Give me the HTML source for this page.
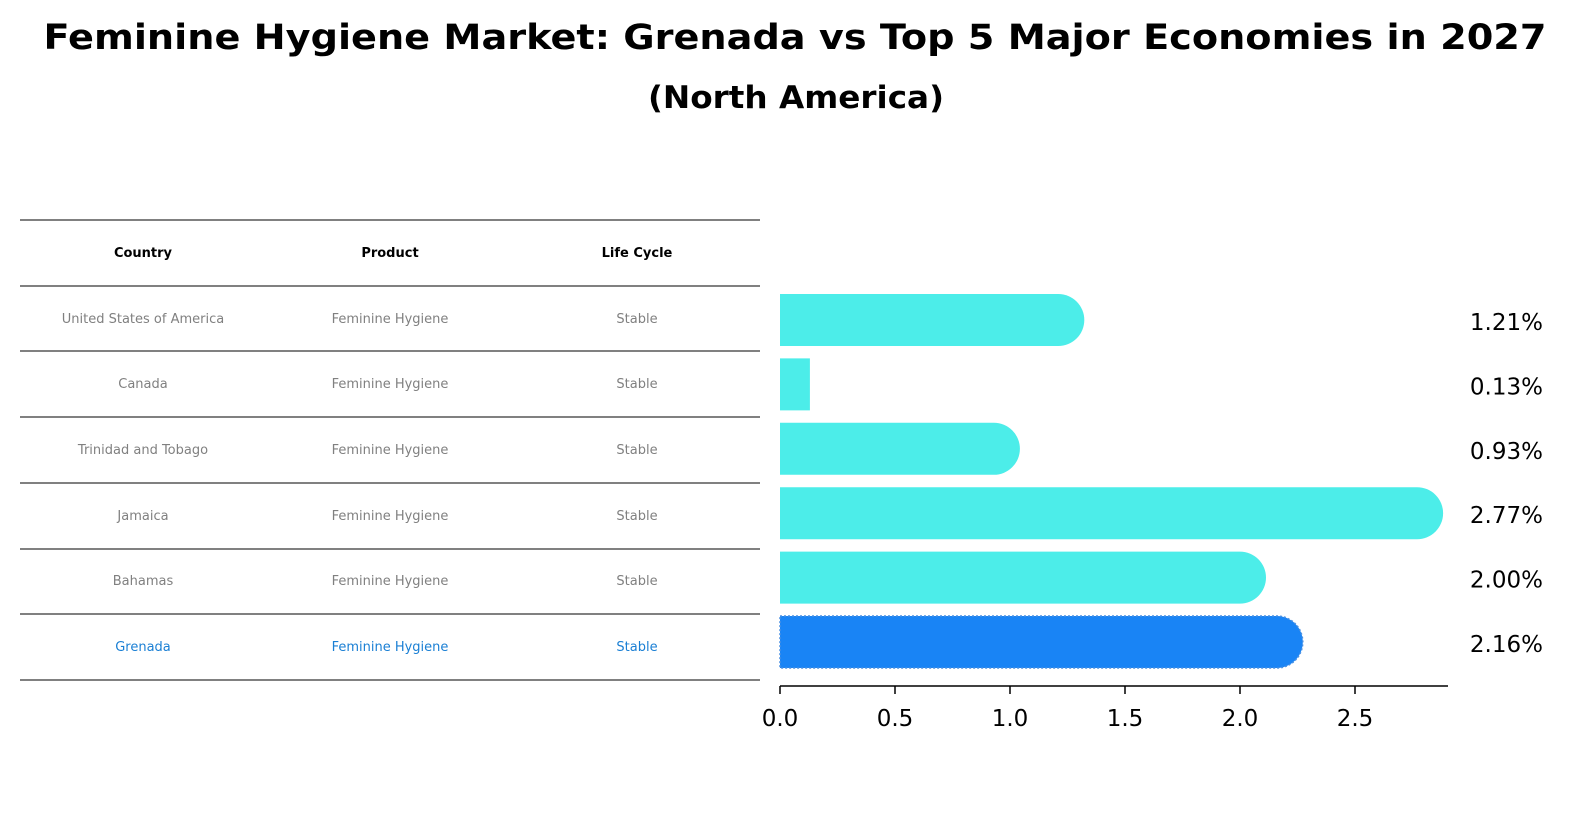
<!DOCTYPE html>
<html><head><meta charset="utf-8"><style>
html,body{margin:0;padding:0;background:#fff;overflow:hidden;width:1591px;height:823px;}
svg{display:block;}
svg text{font-family:"DejaVu Sans","Liberation Sans",sans-serif;}
</style></head><body>
<svg width="1591" height="823" xmlns="http://www.w3.org/2000/svg">
<text x="795" y="49" text-anchor="middle" font-size="35" font-weight="bold" textLength="1503" lengthAdjust="spacingAndGlyphs">Feminine Hygiene Market: Grenada vs Top 5 Major Economies in 2027</text>
<text x="796" y="108" text-anchor="middle" font-size="31" font-weight="bold" textLength="296" lengthAdjust="spacingAndGlyphs">(North America)</text>
<g id="table"></g>
<g id="bars"></g>
<g id="axis"></g>
</svg>
<script>
const countries=["United States of America","Canada","Trinidad and Tobago","Jamaica","Bahamas","Grenada"];
const products=["Feminine Hygiene","Feminine Hygiene","Feminine Hygiene","Feminine Hygiene","Feminine Hygiene","Feminine Hygiene"];
const lifeCycles=["Stable","Stable","Stable","Stable","Stable","Stable"];
const values=[1.21,0.13,0.93,2.77,2.00,2.16];
const valueLabels=["1.21%","0.13%","0.93%","2.77%","2.00%","2.16%"];
const xTicks=[0,0.5,1.0,1.5,2.0,2.5];
const xTickLabels=["0.0","0.5","1.0","1.5","2.0","2.5"];

const NS="http://www.w3.org/2000/svg";
function mk(tag,attrs,parent){const e=document.createElementNS(NS,tag);for(const k in attrs)e.setAttribute(k,attrs[k]);parent.appendChild(e);return e;}
const x=v=>780+v*230;
const yc=i=>320+i*64.4;
const tbl=document.getElementById('table');
const lineYs=[220,286,351,417,483,549,614,680];
lineYs.forEach(ly=>{const l=mk('line',{x1:20,x2:760,y1:ly,y2:ly,stroke:'#000','stroke-width':1},tbl);

});
const cols=[143,390,637];
["Country","Product","Life Cycle"].forEach((h,j)=>{const t=mk('text',{x:cols[j],y:257,'text-anchor':'middle','font-size':13,'font-weight':'bold'},tbl);t.textContent=h;

});
const rowYs=[318,383,449,515,580,646];
countries.forEach((c,i)=>{const col=i===5?'#1a7fd4':'#808080';
[c,products[i],lifeCycles[i]].forEach((s,j)=>{const t=mk('text',{x:cols[j],y:rowYs[i]+5,'text-anchor':'middle','font-size':13,fill:col},tbl);t.textContent=s;

});});
const bars=document.getElementById('bars');
const h=52,r=26;
values.forEach((v,i)=>{const isG=i===5;const fill=isG?'#1984f5':'#4cede9';
const x0=x(0),x1=x(v),yt=yc(i)-h/2;
let d;
if(v<0.3){d=`M${x0},${yt}H${x1}V${yt+h}H${x0}Z`;}
else{d=`M${x0},${yt}H${x1}A${r},${r} 0 0 1 ${x1},${yt+h}H${x0}Z`;}
const p=mk('path',{d:d,fill:fill},bars);
if(isG){p.setAttribute('stroke','#4a90e2');p.setAttribute('stroke-dasharray','2,2');p.setAttribute('stroke-width','1.5');}


const t=mk('text',{x:1543,y:yc(i)+10,'text-anchor':'end','font-size':23},bars);t.textContent=valueLabels[i];

});
const ax=document.getElementById('axis');
const al=mk('line',{x1:780,x2:1448,y1:686,y2:686,stroke:'#000','stroke-width':1.5},ax);


xTicks.forEach((v,i)=>{const tk=mk('line',{x1:x(v),x2:x(v),y1:686,y2:694,stroke:'#000','stroke-width':1.5},ax);


const t=mk('text',{x:x(v),y:726,'text-anchor':'middle','font-size':23},ax);t.textContent=xTickLabels[i];

});
</script>
</body></html>
